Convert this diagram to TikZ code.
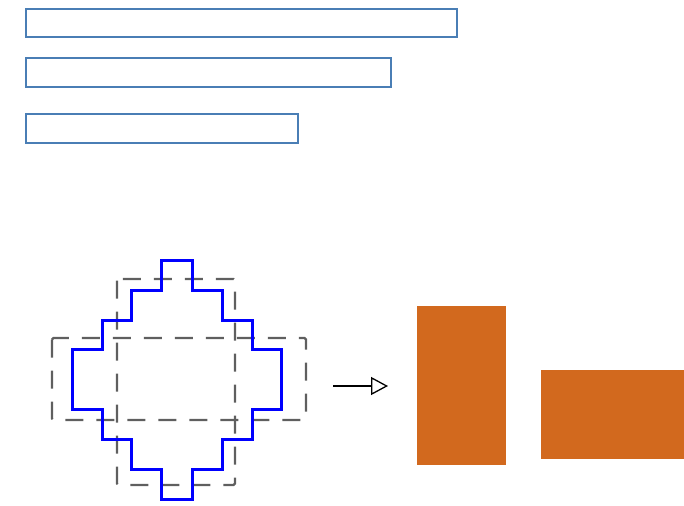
\documentclass[tikz,border=0pt]{standalone}
\usetikzlibrary{arrows.meta}
\definecolor{barblue}{RGB}{74,126,181}
\definecolor{orng}{RGB}{210,105,30}
\definecolor{dgray}{RGB}{95,95,95}
\begin{document}
\begin{tikzpicture}[x=1pt,y=-1pt,
  barbox/.style={draw=barblue,line width=2.6pt},
  dashbox/.style={draw=dgray,line width=2.2pt,dash pattern=on 18pt off 13pt,rounded corners=1.5pt},
  blueline/.style={draw=blue,line width=3.0pt},
  orbox/.style={fill=orng}]
\useasboundingbox (0,0) rectangle (684,505);
% bars
\draw[barbox] (26,9) rectangle (457,37);
\draw[barbox] (26,58) rectangle (391,87);
\draw[barbox] (26,114) rectangle (298,143);
% dashed rectangles
\draw[dashbox] (117,279) rectangle (235,485);
\draw[dashbox] (52,338) rectangle (306,420);
% staircase
\draw[blueline] (161,260) -- (192,260) -- (192,290) -- (222,290) -- (222,320) -- (252,320) -- (252,349) -- (281,349)
  -- (281,409) -- (252,409) -- (252,439) -- (222,439) -- (222,469) -- (192,469) -- (192,499) -- (161,499)
  -- (161,469) -- (131,469) -- (131,439) -- (102,439) -- (102,409) -- (72,409) -- (72,349) -- (102,349)
  -- (102,320) -- (131,320) -- (131,290) -- (161,290) -- cycle;
% arrow
\coordinate (a1) at (333,386);
\coordinate (a2) at (388,386);
\draw[line width=1.3pt,-{Triangle[open,length=17pt,width=18pt]}] (a1) -- (a2);
% orange rectangles
\fill[orbox] (417,306) rectangle (506,465);
\fill[orbox] (541,370) rectangle (684,459);
\end{tikzpicture}
\end{document}
